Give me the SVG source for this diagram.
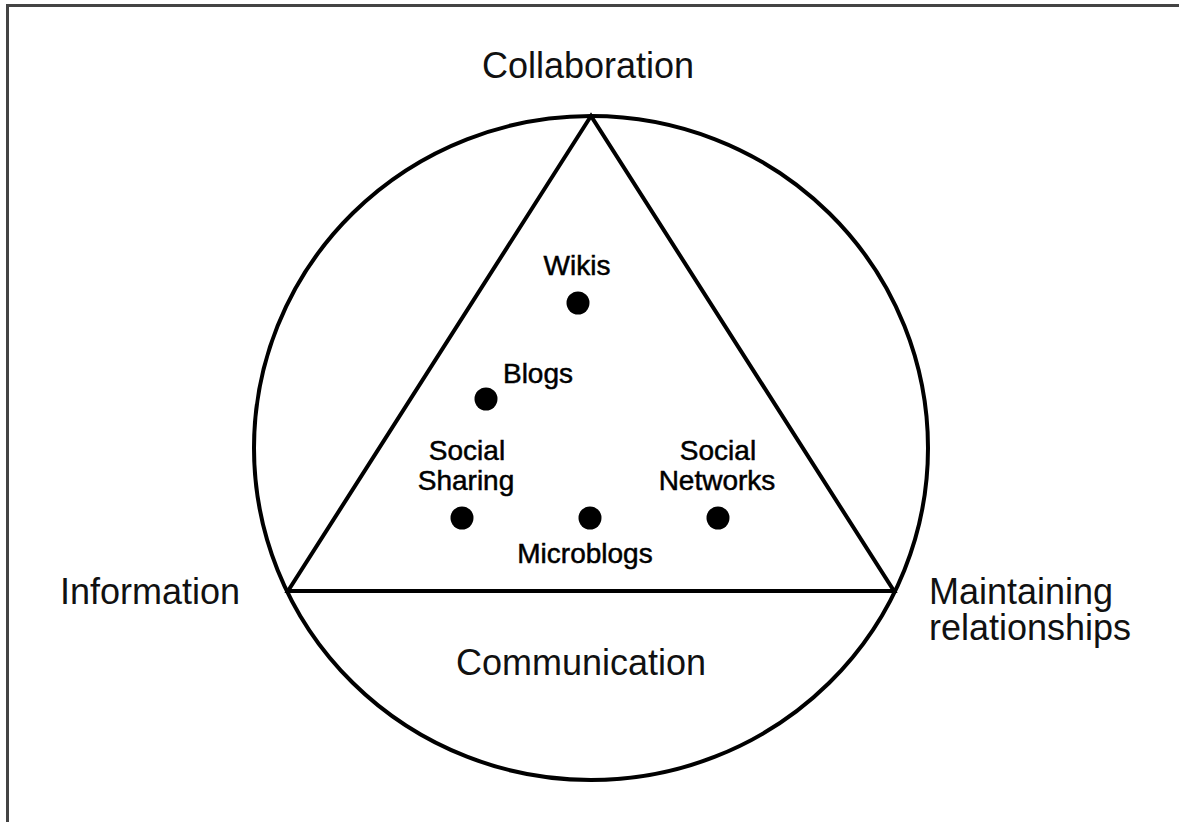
<svg xmlns="http://www.w3.org/2000/svg" width="1179" height="822" viewBox="0 0 1179 822">
<style>
.frame{fill:none;stroke:#444;stroke-width:3}
.shape{fill:none;stroke:#000;stroke-width:4;stroke-linejoin:miter}
.dot{fill:#000}
.outer{font-family:"Liberation Sans",Arial,sans-serif;font-size:36px;fill:#111}
.inner{font-family:"Liberation Sans",Arial,sans-serif;font-size:28px;fill:#000;stroke:#000;stroke-width:0.5}
</style>
<rect width="1179" height="822" fill="#fff"/>
<g id="frame">
<polyline class="frame" points="7.5,822 7.5,5.5 1179,5.5"/>
</g>
<g id="connectors">
<ellipse class="shape" cx="591" cy="448" rx="337" ry="332"/>
<polygon class="shape" points="591,116 288,591 894,591"/>
</g>
<g id="collaboration"><text class="outer" x="588" y="78" text-anchor="middle">Collaboration</text></g>
<g id="information"><text class="outer" x="150" y="604" text-anchor="middle">Information</text></g>
<g id="maintaining"><text class="outer" x="929" y="604">Maintaining</text><text class="outer" x="929" y="640">relationships</text></g>
<g id="communication"><text class="outer" x="581" y="675" text-anchor="middle">Communication</text></g>
<g id="wikis"><text class="inner" x="577" y="275" text-anchor="middle">Wikis</text><circle class="dot" cx="578" cy="303" r="11.5"/></g>
<g id="blogs"><text class="inner" x="538" y="383" text-anchor="middle">Blogs</text><circle class="dot" cx="486" cy="399" r="11.5"/></g>
<g id="social-sharing"><text class="inner" x="467" y="460" text-anchor="middle">Social</text><text class="inner" x="466" y="490" text-anchor="middle">Sharing</text><circle class="dot" cx="462" cy="518" r="11.5"/></g>
<g id="microblogs"><circle class="dot" cx="590" cy="518" r="11.5"/><text class="inner" x="585" y="563" text-anchor="middle">Microblogs</text></g>
<g id="social-networks"><text class="inner" x="718" y="460" text-anchor="middle">Social</text><text class="inner" x="717" y="490" text-anchor="middle">Networks</text><circle class="dot" cx="718" cy="518" r="11.5"/></g>
</svg>
